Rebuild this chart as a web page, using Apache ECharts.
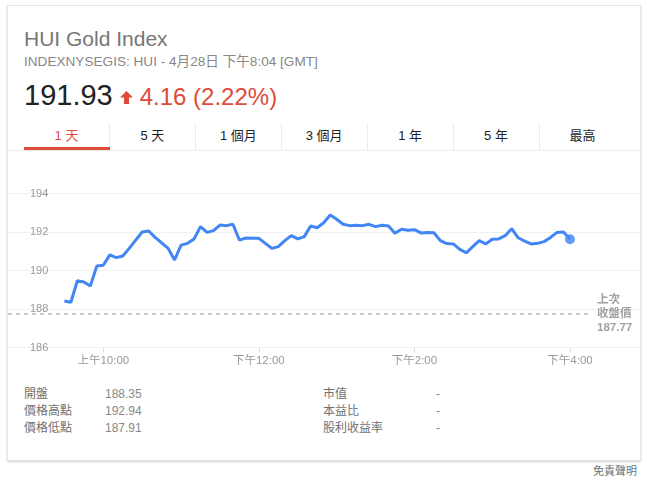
<!DOCTYPE html>
<html>
<head>
<meta charset="utf-8">
<script src="https://cdn.jsdelivr.net/npm/echarts@6/dist/echarts.min.js"></script>
<style>
  body { margin: 0; width: 647px; height: 482px; position: relative; background: #fff;
         font-family: Arial, "Liberation Sans", "Noto Sans CJK TC", sans-serif; overflow: hidden; }
  .abs { position: absolute; white-space: nowrap; }
  .card { left: 7px; top: 5px; width: 634px; height: 456px; box-sizing: border-box;
          border: 1px solid #e6e6e6; box-shadow: 0 1px 2px rgba(0,0,0,0.18); }
  .title { left: 24px; top: 28px; font-size: 21px; line-height: 21px; color: #777; }
  .sub { left: 24px; top: 55px; font-size: 13.6px; line-height: 14px; color: #878787; }
  .price { left: 24px; top: 81px; font-size: 29px; line-height: 29px; color: #222; }
  .price .chg { font-size: 24px; color: #dd4b39; margin-left: 27px; }
  .tab { top: 123px; width: 86px; height: 27px; line-height: 25px; font-size: 13px;
         text-align: center; color: #222; box-sizing: border-box; }
  .tab.sep { border-right: 1px solid #ebebeb; }
  .tab.on { color: #dd4b39; }
  .stat { font-size: 12px; line-height: 17px; color: #707070; }
  .val { color: #888; }
  #chart { position: absolute; left: 8px; top: 151px; width: 632px; height: 224px; }
</style>
</head>
<body>
<div class="abs card"></div>
<div class="abs title">HUI Gold Index</div>
<div class="abs sub">INDEXNYSEGIS: HUI - 4月28日 下午8:04 [GMT]</div>
<div class="abs price">191.93<span class="chg">4.16 (2.22%)</span></div>
<svg class="abs" style="left:120px;top:91px" width="13" height="13" viewBox="0 0 13 13">
  <polygon points="6.5,0 13,6.5 9,6.5 9,13 4,13 4,6.5 0,6.5" fill="#dd4b39"/>
</svg>
<div id="tabs"></div>
<div class="abs" style="left:24px;top:147px;width:86px;height:3px;background:#dd4b39"></div>
<div class="abs" style="left:8px;top:150px;width:632px;height:1px;background:#ebebeb"></div>
<div id="stats"></div>
<div class="abs stat" style="right:10px;top:463px;font-size:11px;">免責聲明</div>
<div id="chart"></div>
<script>
// 5 分鐘走勢, 9:30 開始
var startMinute = 570;
var stepMinute = 5;
var prices = [
  188.42, 188.35, 189.47, 189.40, 189.19, 190.23, 190.27, 190.81, 190.67, 190.75,
  191.15, 191.58, 192.00, 192.05, 191.72, 191.44, 191.15, 190.55, 191.32, 191.41,
  191.64, 192.28, 191.98, 192.07, 192.36, 192.33, 192.40, 191.58, 191.69, 191.67,
  191.67, 191.41, 191.15, 191.24, 191.55, 191.81, 191.64, 191.76, 192.31, 192.22,
  192.48, 192.88, 192.66, 192.40, 192.33, 192.35, 192.33, 192.40, 192.28, 192.35,
  192.31, 191.93, 192.14, 192.09, 192.12, 191.95, 191.98, 191.96, 191.55, 191.40,
  191.38, 191.10, 190.92, 191.24, 191.55, 191.38, 191.62, 191.64, 191.81, 192.17,
  191.70, 191.53, 191.38, 191.41, 191.50, 191.72, 191.98, 192.00, 191.62
];
var prevClose = 187.77;
var xTickValues = [600, 720, 840, 960];
var xTickLabels = ['上午10:00', '下午12:00', '下午2:00', '下午4:00'];
var tabNames = ['1 天', '5 天', '1 個月', '3 個月', '1 年', '5 年', '最高'];
var statLeft = [['開盤', '188.35'], ['價格高點', '192.94'], ['價格低點', '187.91']];
var statRight = [['市值', '-'], ['本益比', '-'], ['股利收益率', '-']];

// tabs
var tabsHtml = '';
tabNames.forEach(function (name, i) {
  var cls = 'abs tab' + (i < tabNames.length - 1 ? ' sep' : '') + (i === 0 ? ' on' : '');
  tabsHtml += '<div class="' + cls + '" style="left:' + (24 + i * 85.9) + 'px">' + name + '</div>';
});
document.getElementById('tabs').innerHTML = tabsHtml;

// stats
var statsHtml = '';
[[statLeft, 24, 105], [statRight, 323, 436]].forEach(function (col) {
  col[0].forEach(function (row, i) {
    var top = 385.5 + i * 17;
    statsHtml += '<div class="abs stat" style="left:' + col[1] + 'px;top:' + top + 'px">' + row[0] + '</div>';
    statsHtml += '<div class="abs stat val" style="left:' + col[2] + 'px;top:' + top + 'px">' + row[1] + '</div>';
  });
});
document.getElementById('stats').innerHTML = statsHtml;

var seriesData = prices.map(function (v, i) {
  return [startMinute + i * stepMinute, v];
});
var last = seriesData[seriesData.length - 1];

var chart = echarts.init(document.getElementById('chart'));
chart.setOption({
  animation: false,
  textStyle: { fontFamily: 'Arial, "Liberation Sans", "Noto Sans CJK TC", sans-serif' },
  grid: { left: 0, right: 0, top: 42.5, bottom: 27.5 },
  xAxis: {
    type: 'value',
    min: 526.5,
    max: 1014,
    axisLine: { show: false },
    splitLine: { show: false },
    axisTick: {
      show: true,
      length: 5,
      lineStyle: { color: '#dddddd' },
      customValues: xTickValues
    },
    axisLabel: {
      color: '#999',
      fontSize: 11.5,
      margin: 8,
      customValues: xTickValues,
      formatter: function (val) {
        return xTickLabels[xTickValues.indexOf(val)] || '';
      }
    }
  },
  yAxis: {
    type: 'value',
    min: 186,
    max: 194,
    interval: 2,
    axisLine: { show: false },
    axisTick: { show: false },
    axisLabel: { inside: true, margin: 22, color: '#999', fontSize: 11 },
    splitLine: { lineStyle: { color: '#f0f0f0', width: 1 } }
  },
  series: [
    {
      type: 'line',
      data: seriesData,
      symbol: 'none',
      lineStyle: { color: '#4285f4', width: 3 },
      markLine: {
        silent: true,
        symbol: 'none',
        lineStyle: { color: '#bbbbbb', type: [4, 4], width: 1.5 },
        label: {
          position: 'end',
          distance: 5,
          color: '#a0a0a0',
          fontSize: 11.5,
          fontWeight: 'bold',
          lineHeight: 14,
          padding: [0, 0, 28, 0],
          formatter: '上次\n收盤價\n' + prevClose.toFixed(2)
        },
        data: [[{ coord: [526.5, prevClose] }, { coord: [977, prevClose] }]]
      }
    },
    {
      type: 'scatter',
      data: [last],
      symbolSize: 10,
      itemStyle: { color: '#4285f4' },
      silent: true
    }
  ]
});
</script>
</body>
</html>
